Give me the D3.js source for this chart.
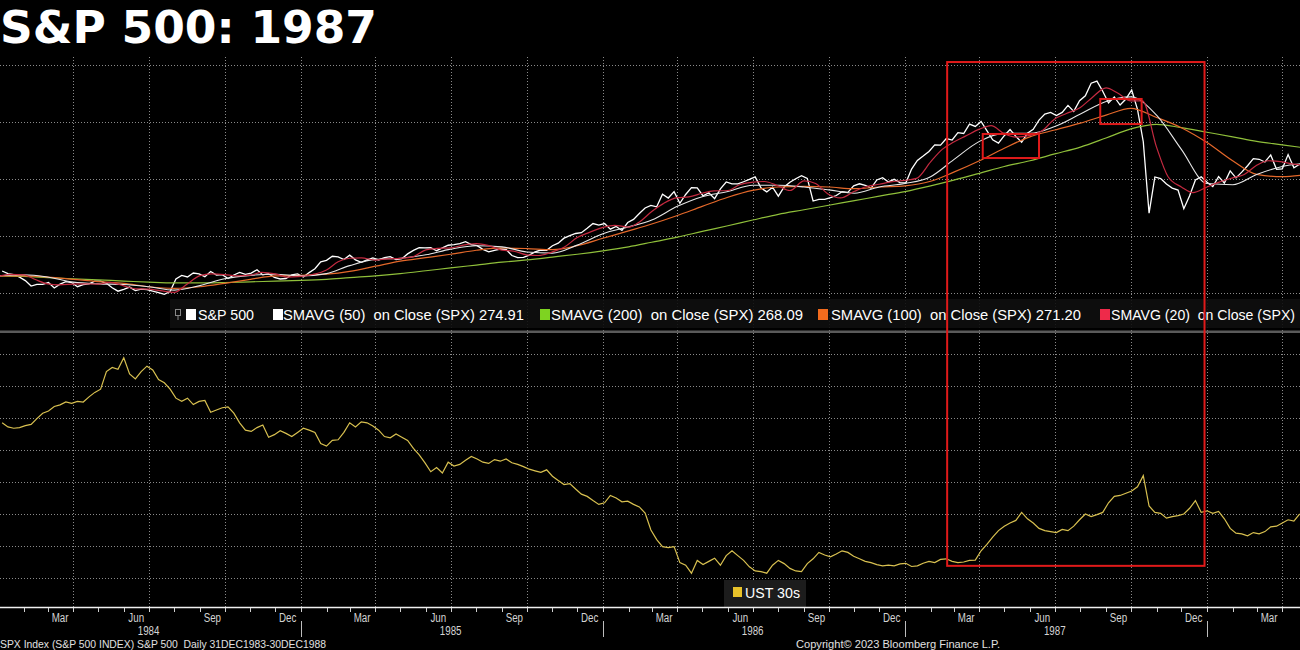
<!DOCTYPE html>
<html><head><meta charset="utf-8">
<script src="https://cdn.jsdelivr.net/npm/d3@7"></script>
<style>
html,body{margin:0;padding:0;background:#000;}
svg{display:block;}
text{white-space:pre;}
</style></head><body>
<svg id="c" width="1300" height="650"></svg>
<script>
// ---------------- DATA ----------------
// S&P 500 weekly (Friday) values
const spx1984 = [169.3,167.0,166.2,163.9, 160.9,156.1,157.5,157.5, 159.2,154.4,157.8,159.9,159.2, 155.5,157.3,158.0,160.3, 160.5,158.5,154.6,151.6, 153.2,155.2,152.1,153.4,153.0, 151.6,150.3,148.8,151.2, 162.4,165.4,164.1,167.5,166.7, 164.3,168.8,165.7,166.1, 162.7,165.8,168.1,166.3, 167.4,170.4,165.9,166.9,163.6, 162.3,162.7,166.0,166.8];
const spx1985 = [164.0,167.9,171.3,177.4, 178.6,182.2,181.6,179.4, 183.2,179.1,176.9,179.0,180.7, 179.0,181.1,181.9,179.4, 180.1,184.3,187.4,189.7,189.6, 189.7,187.1,189.6,191.9, 192.5,193.3,195.1,192.4, 191.5,188.3,186.1,187.3,188.6, 188.2,182.9,181.0,181.3, 183.2,186.1,187.7,187.5, 191.5,193.7,198.1,200.4,202.2, 202.9,206.7,210.9,209.6];
const spx1986 = [210.9,206.0,208.4,204.9,211.8, 214.6,219.8,224.6,226.9, 225.6,236.6,233.3,238.9, 228.7,236.4,242.4,242.3, 235.2,237.9,232.8,241.4,247.4, 245.7,245.7,247.6,249.6, 251.8,242.2,238.7,242.8, 234.9,243.0,247.1,250.2,252.9, 250.5,230.7,232.2,232.2, 233.7,235.5,238.8,238.3,244.0, 245.8,244.5,242.0,249.2, 251.2,247.4,249.7,246.9];
const spx1987 = [246.5,258.7,266.3,270.1,274.1, 280.0,279.7,285.5,284.2, 290.7,289.9,298.2,296.1, 300.5,292.5,284.4,281.5, 288.0,293.4,287.4,282.2,290.1, 293.5,301.6,307.0,308.4, 305.6,308.4,314.6,309.3,318.7, 323.0,334.0,335.9,327.0, 316.7,322.0,314.9,320.2, 328.1,311.1,282.7,220.0,251.8, 250.4,245.6,242.0,240.3, 223.9,235.3,249.2,252.0];
const spx1988 = [247.1,243.4,252.1,246.5,257.1, 251.0,256.0,261.6,267.8, 267.3,264.9,271.1,258.5, 258.9,271.4,259.8,263.0];

// Moving averages (monthly, 1st of month Jan 1984 - May 1988)
const sma50 = [165,166,164,159.5,158,157.5,155.5,152.5,156.5,162.5,165.5,166.5,
  165,167,174,179.5,180.5,183.5,188.5,191.5,190.5,186,185,192,
  202,208,214,226,234.5,239,244.5,244.5,243,240.5,237.5,243,
  246,252,267,283,290,290,296,307,318,322,306,276,
  246,245,254,261,264];
const sma100 = [165,165,164,162,160,158.5,155.5,154,155.5,158.5,162,165,
  165.5,166.5,169,173.5,178,181,184,187.5,189.5,189,188,191.5,
  198,204.5,210.5,218,226,234,240,243,243.5,243,241.5,243,
  244,248,256,266,277,287,293,299,306,312,304,295,
  282,266,254,252,254];
const sma200 = [165,164.5,163.5,162.5,161.5,160.5,159.5,158.8,158.8,159.2,159.8,160.4,
  161,162,163.5,165,167,169.5,172,174.5,177,179,181.5,184,
  187,190.5,194.5,199,204,209,214,219,223,227,231,235,
  239,244,249,255,261,266,272,278,286,294,298,295,
  291,287,283,280,277];
// 20-day average (1st and 15th of each month, Jan 1984 - May 1 1988)
const sma20 = [164.5,166.3,166.0,161.8,158.0,157.2,157.8,158.0,157.8,159.3,156.3,153.7,153.4,152.1,150.5,157.0,165.2,166.8,166.2,165.1,165.7,168.1,166.7,163.9,
  164.5,166.2,170.2,177.4,180.5,180.8,178.9,180.0,180.4,181.4,187.8,189.1,189.6,191.8,193.3,191.8,187.6,186.8,183.4,182.9,186.1,190.1,198.6,203.0,
  207.5,209.4,207.8,212.8,221.5,228.4,233.6,234.3,237.5,239.5,239.9,245.0,247.2,247.8,243.9,239.9,248.3,246.1,236.4,233.4,239.2,243.2,245.4,247.5,
  248.8,250.5,265.0,276.0,282.4,287.6,293.7,296.8,289.7,286.8,288.3,291.9,302.6,307.4,312.8,321.3,330.0,325.4,318.5,318.6,278.0,252.0,243.0,238.0,
  243.0,247.0,251.0,254.0,262.0,266.0,265.0,263.0,262.0];

// UST 30-year yield, weekly (Friday), %
const ust1984 = [11.85,11.72,11.68,11.70,11.76,11.80,11.98,12.15,12.22,12.36,12.41,12.50,12.46,12.52,12.50,12.66,12.80,12.90,13.45,13.58,13.52,13.88,13.38,13.22,13.45,13.62,13.50,13.20,13.10,12.90,12.62,12.52,12.62,12.42,12.52,12.55,12.18,12.25,12.32,12.35,12.15,11.85,11.62,11.58,11.70,11.78,11.40,11.48,11.60,11.52,11.42,11.55];
const ust1985 = [11.68,11.62,11.55,11.20,11.12,11.30,11.32,11.55,11.85,11.72,11.88,11.85,11.75,11.62,11.42,11.38,11.50,11.40,11.30,11.05,10.85,10.60,10.32,10.45,10.28,10.62,10.50,10.55,10.68,10.80,10.72,10.62,10.58,10.70,10.65,10.72,10.60,10.55,10.48,10.40,10.35,10.30,10.38,10.18,10.05,9.92,9.95,9.78,9.62,9.55,9.42,9.30];
const ust1986 = [9.35,9.58,9.50,9.38,9.40,9.30,9.22,9.03,8.50,8.20,7.98,7.95,7.98,7.48,7.40,7.15,7.55,7.42,7.52,7.62,7.40,7.70,7.85,7.70,7.55,7.35,7.22,7.20,7.15,7.40,7.55,7.45,7.30,7.22,7.20,7.45,7.60,7.80,7.72,7.66,7.75,7.85,7.80,7.68,7.60,7.52,7.48,7.42,7.38,7.40,7.38,7.44];
const ust1987 = [7.46,7.36,7.38,7.46,7.52,7.48,7.58,7.60,7.52,7.48,7.50,7.55,7.56,7.85,8.05,8.28,8.48,8.62,8.72,8.80,9.05,8.85,8.72,8.55,8.48,8.45,8.42,8.52,8.48,8.62,8.82,9.00,8.92,8.98,9.05,9.35,9.55,9.58,9.65,9.72,9.85,10.20,9.25,9.05,9.02,8.87,8.92,8.95,9.00,9.18,9.42,9.05];
const ust1988 = [9.10,9.02,9.08,8.85,8.55,8.40,8.38,8.32,8.42,8.38,8.45,8.60,8.62,8.72,8.82,8.78,9.00];

const spxTicks = [150,200,250,300,350];
const ustTicks = [7,8,9,10,11,12,13,14];
const monthLabelMonths = [2,5,8,11];

const legendItems = ["S&P 500","SMAVG (50)  on Close (SPX) 274.91","SMAVG (200)  on Close (SPX) 268.09","SMAVG (100)  on Close (SPX) 271.20","SMAVG (20)  on Close (SPX)"];
const ustLegend = "UST 30s";
const titleText = "S&P 500: 1987";
const footerLeft = "SPX Index (S&P 500 INDEX) S&P 500  Daily 31DEC1983-30DEC1988";
const footerRight = "Copyright\u00A9 2023 Bloomberg Finance L.P.";

// annotation boxes (date range, value range)
const bigBox = {from:"1987-02-21", to:"1987-12-29", spxTop:352.6, ustBottom:7.38};
const smallBoxes = [{from:"1987-04-05", to:"1987-06-12", hi:289.5, lo:268.4},
                    {from:"1987-08-25", to:"1987-10-14", hi:320.2, lo:298.2}];

// ---------------- LAYOUT / STYLE ----------------
const W=1300,H=650;
const styles = {
  spx:"#ffffff", sma50:"#e6e6e6", sma200:"#8fbf3a", sma100:"#e4682a", sma20:"#c42a40", ust:"#d8c050",
  leg:["#ffffff","#ffffff","#7ed321","#f26b1d","#ee2a4a"], grid:"#8a8a8a", box:"#e01a1a"
};
const legendLayout = [{sq:186,tx:198,tw:56},{sq:273,tx:283,tw:241},{sq:540,tx:551,tw:252},{sq:818,tx:831,tw:250},{sq:1100,tx:1111,tw:184}];

const svg = d3.select('#c');
svg.append('rect').attr('width',W).attr('height',H).attr('fill','#000');

const pd = d3.timeParse("%Y-%m-%d");
const weeks = d3.timeFriday.range(new Date(1984,0,6), new Date(1988,3,23));
const spx = [].concat(spx1984,spx1985,spx1986,spx1987,spx1988);
const ust = [].concat(ust1984,ust1985,ust1986,ust1987,ust1988);
const months = d3.timeMonth.range(new Date(1984,0,1), new Date(1988,4,2));
const semi = [];
months.forEach((m,i)=>{ semi.push(m); if(i<months.length-1) semi.push(new Date(m.getFullYear(),m.getMonth(),15)); });

const x = d3.scaleTime().domain([new Date(1984,0,1), new Date(1988,0,1)]).range([-2,1207]);
const yT = d3.scaleLinear().domain([150,350]).range([293,65]);
const yB = d3.scaleLinear().domain([7,14]).range([578,354]);

const defs = svg.append('defs');
defs.append('clipPath').attr('id','clipT').append('rect').attr('x',0).attr('y',57).attr('width',W).attr('height',273);
defs.append('clipPath').attr('id','clipB').append('rect').attr('x',0).attr('y',334).attr('width',W).attr('height',273);

function narrow(sel,f){ sel.each(function(){ const w=this.getComputedTextLength(); d3.select(this).attr('textLength',w*f).attr('lengthAdjust','spacingAndGlyphs'); }); }

// Title
svg.append('text').attr('x',0).attr('y',43).attr('fill','#fff')
  .attr('font-family','DejaVu Sans, Verdana, sans-serif').attr('font-weight','bold').attr('font-size',45)
  .attr('textLength',377).attr('lengthAdjust','spacingAndGlyphs').text(titleText);

// Grid
const grid = svg.append('g').attr('stroke',styles.grid).attr('stroke-width',1).attr('stroke-dasharray','1,2').attr('fill','none');
const quarters = d3.timeMonth.every(3).range(new Date(1984,3,1), new Date(1988,6,1));
grid.selectAll('line.v').data(quarters).join('line').attr('class','v')
  .attr('x1',d=>Math.round(x(d))+0.5).attr('x2',d=>Math.round(x(d))+0.5).attr('y1',57).attr('y2',607);
grid.selectAll('line.ht').data(spxTicks).join('line').attr('class','ht')
  .attr('x1',0).attr('x2',W).attr('y1',d=>Math.round(yT(d))+0.5).attr('y2',d=>Math.round(yT(d))+0.5);
grid.selectAll('line.hb').data(ustTicks).join('line').attr('class','hb')
  .attr('x1',0).attr('x2',W).attr('y1',d=>Math.round(yB(d))+0.5).attr('y2',d=>Math.round(yB(d))+0.5);

// panel separator
svg.append('rect').attr('x',0).attr('y',330.5).attr('width',W).attr('height',2.5).attr('fill','#5a5a5a');

// Top panel lines
const gT = svg.append('g').attr('clip-path','url(#clipT)').attr('fill','none');
const spxData = weeks.map((d,i)=>({d, v:spx[i]})).filter(p=>p.v!=null);
const lineT = d3.line().x(p=>x(p.d)).y(p=>yT(p.v));
gT.append('path').datum(spxData).attr('d',lineT).attr('stroke',styles.spx).attr('stroke-width',1.3);
const curveT = d3.line().x(p=>x(p.d)).y(p=>yT(p.v)).curve(d3.curveMonotoneX);
gT.append('path').datum(months.map((d,i)=>({d,v:sma200[i]}))).attr('d',curveT).attr('stroke',styles.sma200).attr('stroke-width',1.2);
gT.append('path').datum(months.map((d,i)=>({d,v:sma100[i]}))).attr('d',curveT).attr('stroke',styles.sma100).attr('stroke-width',1.2);
gT.append('path').datum(months.map((d,i)=>({d,v:sma50[i]}))).attr('d',curveT).attr('stroke',styles.sma50).attr('stroke-width',1.1);
gT.append('path').datum(semi.map((d,i)=>({d,v:sma20[i]}))).attr('d',curveT).attr('stroke',styles.sma20).attr('stroke-width',1.2);

// Bottom panel line
const gB = svg.append('g').attr('clip-path','url(#clipB)').attr('fill','none');
const ustData = weeks.map((d,i)=>({d, v:ust[i]})).filter(p=>p.v!=null);
gB.append('path').datum(ustData).attr('d',d3.line().x(p=>x(p.d)).y(p=>yB(p.v))).attr('stroke',styles.ust).attr('stroke-width',1.2);

// Top legend
const lg = svg.append('g');
lg.append('rect').attr('x',170).attr('y',299).attr('width',W-170).attr('height',29).attr('fill','#0e0e0e').attr('opacity',0.9);
lg.append('rect').attr('x',175.5).attr('y',309.5).attr('width',5).attr('height',6).attr('fill','none').attr('stroke','#888').attr('stroke-width',1);
lg.append('line').attr('x1',178).attr('x2',178).attr('y1',316).attr('y2',320).attr('stroke','#888');
legendItems.forEach((t,i)=>{
  const L = legendLayout[i];
  lg.append('rect').attr('x',L.sq).attr('y',309).attr('width',10).attr('height',11).attr('fill',styles.leg[i]);
  lg.append('text').attr('x',L.tx).attr('y',320).attr('fill','#fff').attr('font-family','Liberation Sans, Arial, sans-serif')
    .attr('font-size',15).attr('textLength',L.tw).attr('lengthAdjust','spacingAndGlyphs').text(t);
});

// Bottom legend
svg.append('rect').attr('x',724).attr('y',580).attr('width',82).attr('height',27).attr('fill','#1c1c1c');
svg.append('rect').attr('x',733).attr('y',587).attr('width',9).attr('height',10).attr('fill','#e8c22a');
svg.append('text').attr('x',745).attr('y',598).attr('fill','#fff').attr('font-family','Liberation Sans, Arial, sans-serif')
  .attr('font-size',15).attr('textLength',55).attr('lengthAdjust','spacingAndGlyphs').text(ustLegend);

// Annotation boxes
const bx = svg.append('g').attr('fill','none').attr('stroke',styles.box).attr('stroke-width',2);
bx.append('rect').attr('x',x(pd(bigBox.from))).attr('y',yT(bigBox.spxTop))
  .attr('width',x(pd(bigBox.to))-x(pd(bigBox.from))).attr('height',yB(bigBox.ustBottom)-yT(bigBox.spxTop));
bx.selectAll('rect.s').data(smallBoxes).join('rect').attr('class','s')
  .attr('x',b=>x(pd(b.from))).attr('y',b=>yT(b.hi)).attr('width',b=>x(pd(b.to))-x(pd(b.from))).attr('height',b=>yT(b.lo)-yT(b.hi));

// X axis
const ax = svg.append('g');
ax.append('line').attr('x1',0).attr('x2',W).attr('y1',607.5).attr('y2',607.5).attr('stroke','#f0f0f0').attr('stroke-width',1.6);
const allMonths = d3.timeMonth.range(new Date(1984,0,1), new Date(1988,4,2));
ax.selectAll('line.t').data(allMonths).join('line').attr('class','t')
  .attr('x1',d=>Math.round(x(d))+0.5).attr('x2',d=>Math.round(x(d))+0.5).attr('y1',608).attr('y2',612).attr('stroke','#cfcfcf');
const labMonths = allMonths.filter(d=>monthLabelMonths.includes(d.getMonth()));
const fmt = d3.timeFormat('%b');
ax.selectAll('text.m').data(labMonths).join('text').attr('class','m')
  .attr('x',d=>x(new Date(d.getFullYear(),d.getMonth(),16))).attr('y',622).attr('text-anchor','middle')
  .attr('fill','#d4d4d4').attr('font-family','Liberation Sans, Arial, sans-serif').attr('font-size',12.5).text(d=>fmt(d))
  .call(narrow,0.78);
const years = [1984,1985,1986,1987];
ax.selectAll('text.y').data(years).join('text').attr('class','y')
  .attr('x',d=>x(new Date(d,6,1))).attr('y',635).attr('text-anchor','middle')
  .attr('fill','#d4d4d4').attr('font-family','Liberation Sans, Arial, sans-serif').attr('font-size',12.5).text(d=>String(d))
  .call(narrow,0.78);
ax.selectAll('line.ys').data([1985,1986,1987,1988]).join('line').attr('class','ys')
  .attr('x1',d=>Math.round(x(new Date(d,0,1)))+0.5).attr('x2',d=>Math.round(x(new Date(d,0,1)))+0.5)
  .attr('y1',621).attr('y2',637).attr('stroke','#bdbdbd');

// Footer
svg.append('text').attr('x',0).attr('y',648).attr('fill','#e0e0e0').attr('font-family','Liberation Sans, Arial, sans-serif')
  .attr('font-size',11.5).attr('textLength',326).attr('lengthAdjust','spacingAndGlyphs').text(footerLeft);
svg.append('text').attr('x',796).attr('y',648).attr('fill','#e0e0e0').attr('font-family','Liberation Sans, Arial, sans-serif')
  .attr('font-size',11.5).attr('textLength',204).attr('lengthAdjust','spacingAndGlyphs').text(footerRight);
</script>
</body></html>
